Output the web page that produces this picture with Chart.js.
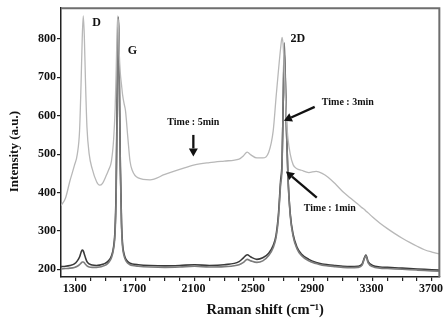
<!DOCTYPE html>
<html><head><meta charset="utf-8">
<script src="https://cdn.jsdelivr.net/npm/chart.js@4/dist/chart.umd.min.js"></script>
<style>html,body{margin:0;padding:0;background:#fff}canvas{display:block}</style>
</head><body>
<canvas id="c" width="445" height="320"></canvas>
<script>
const shift = [1200,1230,1260,1290,1310,1325,1335,1343,1350,1357,1365,1375,1390,1410,1440,1460,1480,1500,1520,1540,1555,1565,1572,1578,1583,1588,1593,1600,1608,1615,1625,1635,1650,1665,1680,1720,1800,1900,2000,2100,2200,2300,2400,2430,2455,2480,2520,2560,2600,2630,2650,2665,2680,2690,2698,2705,2712,2720,2730,2745,2765,2790,2820,2870,2920,2960,3000,3050,3100,3150,3200,3230,3245,3255,3270,3300,3350,3400,3450,3500,3550,3600,3650,3700,3750];
const time1min = [207,208,210,214,222,232,244,250,248,240,230,220,214,211,210,211,213,216,222,235,260,310,420,640,830,856,700,470,320,265,240,228,220,216,214,212,210,209,210,212,210,212,220,230,238,232,226,230,242,262,290,340,430,480,640,765,690,560,440,345,290,258,240,226,218,214,212,210,208,207,208,214,230,237,220,210,206,205,204,203,202,201,200,199,198];
const time3min = [201,202,203,205,208,212,216,219,219,217,213,209,206,205,205,206,208,211,217,230,255,300,400,610,810,850,690,460,310,258,235,224,216,212,210,208,206,205,206,208,206,207,212,218,226,222,218,222,236,256,284,332,420,470,650,790,700,560,435,340,285,254,236,222,215,211,209,207,205,204,205,211,228,235,217,207,203,202,201,200,199,198,197,196,195];
const time5min = [366,385,430,470,500,560,680,800,860,810,690,570,500,462,428,419,424,440,458,482,540,620,720,820,860,830,760,710,680,655,632,612,545,482,458,438,433,447,460,472,478,482,487,496,505,498,490,490,505,560,650,715,775,804,780,720,650,590,540,500,472,462,458,452,455,450,440,422,402,386,370,360,356,352,347,336,320,306,293,281,270,260,251,245,240];
const xLabels = [1300,1700,2100,2500,2900,3300,3700];
const xMinorStep = 100;
const yLabels = [200,300,400,500,600,700,800];

const notes = [
  {text:'D', x:1440, y:841, size:12},
  {text:'G', x:1682, y:769, size:12},
  {text:'2D', x:2797, y:800, size:12},
  {text:'Time : 5min', x:2092, y:582, size:10},
  {text:'Time : 3min', x:3133, y:634, size:10},
  {text:'Time : 1min', x:3012, y:359, size:10}
];
const arrows = [
  {x0:2092, y0:550, x1:2092, y1:494},
  {x0:2910, y0:623, x1:2702, y1:587},
  {x0:2924, y0:387, x1:2716, y1:455}
];

const SERIF = '"Liberation Serif","Times New Roman",serif';

const annot = {
  id:'annot',
  afterDraw(chart){
    const {ctx, chartArea:a, scales:{x,y}} = chart;
    ctx.save();
    ctx.strokeStyle = '#6e6e6e'; ctx.lineWidth = 2;
    ctx.beginPath(); ctx.moveTo(a.left, a.top); ctx.lineTo(a.right, a.top); ctx.lineTo(a.right, a.bottom); ctx.stroke();
    ctx.fillStyle = '#111'; ctx.textAlign='center'; ctx.textBaseline='middle';
    notes.forEach(n=>{
      ctx.font = 'bold '+n.size+'px '+SERIF;
      ctx.fillText(n.text, x.getPixelForValue(n.x), y.getPixelForValue(n.y));
    });
    ctx.strokeStyle='#111'; ctx.fillStyle='#111'; ctx.lineWidth=2.3;
    arrows.forEach(r=>{
      const X0=x.getPixelForValue(r.x0), Y0=y.getPixelForValue(r.y0);
      const X1=x.getPixelForValue(r.x1), Y1=y.getPixelForValue(r.y1);
      const ang=Math.atan2(Y1-Y0, X1-X0), h=8, w=4.5;
      const bx=X1-h*Math.cos(ang), by=Y1-h*Math.sin(ang);
      ctx.beginPath(); ctx.moveTo(X0,Y0); ctx.lineTo(bx,by); ctx.stroke();
      ctx.beginPath(); ctx.moveTo(X1,Y1);
      ctx.lineTo(bx+w*Math.sin(ang), by-w*Math.cos(ang));
      ctx.lineTo(bx-w*Math.sin(ang), by+w*Math.cos(ang));
      ctx.closePath(); ctx.fill();
    });
    ctx.fillStyle='#111';
    ctx.font = 'bold 14.5px '+SERIF;
    ctx.textAlign='center'; ctx.textBaseline='middle';
    ctx.fillText('Raman shift (cm\u207B\u00B9)', (a.left+a.right)/2+15, 310);
    ctx.save();
    ctx.translate(15, (a.top+a.bottom)/2+9);
    ctx.rotate(-Math.PI/2);
    ctx.font = 'bold 13px '+SERIF;
    ctx.fillText('Intensity (a.u.)', 0, 0);
    ctx.restore();
    ctx.restore();
  }
};

const mk = (arr)=>shift.map((v,i)=>({x:v, y:arr[i]}));

new Chart(document.getElementById('c'), {
  type:'line',
  data:{datasets:[
    {label:'Time : 5min', data:mk(time5min), borderColor:'#b8b8b8', borderWidth:1.3},
    {label:'Time : 3min', data:mk(time3min), borderColor:'#7c7c7c', borderWidth:1.6},
    {label:'Time : 1min', data:mk(time1min), borderColor:'#3a3a3a', borderWidth:1.6}
  ]},
  options:{
    responsive:false, animation:false,
    layout:{padding:{left:0,right:4,top:7,bottom:0}},
    elements:{point:{radius:0}, line:{cubicInterpolationMode:'monotone'}},
    plugins:{legend:{display:false}, tooltip:{enabled:false}},
    scales:{
      x:{type:'linear', min:1200, max:3750,
        afterBuildTicks(s){
          const t=[];
          for(let v=xLabels[0]; v<=xLabels[xLabels.length-1]; v+=xMinorStep) t.push({value:v});
          s.ticks=t;
        },
        afterFit(s){ s.height = 43; },
        ticks:{autoSkip:false, maxRotation:0, padding:1, labelOffset:-1, color:'#111',
          font:{family:SERIF, size:12, weight:'bold'},
          callback:(v)=> xLabels.includes(v) ? String(v) : ''},
        grid:{drawOnChartArea:false, tickLength:4, color:'#222', lineWidth:1.2},
        border:{color:'#222', width:1.5}
      },
      y:{min:180, max:880,
        afterBuildTicks(s){ s.ticks = yLabels.map(v=>({value:v})); },
        afterFit(s){ s.width = 61; },
        ticks:{padding:1, color:'#111', font:{family:SERIF, size:12, weight:'bold'}},
        grid:{drawOnChartArea:false, tickLength:4, color:'#222', lineWidth:1.2},
        border:{color:'#222', width:1.5}
      }
    }
  },
  plugins:[annot]
});
</script>
</body></html>
